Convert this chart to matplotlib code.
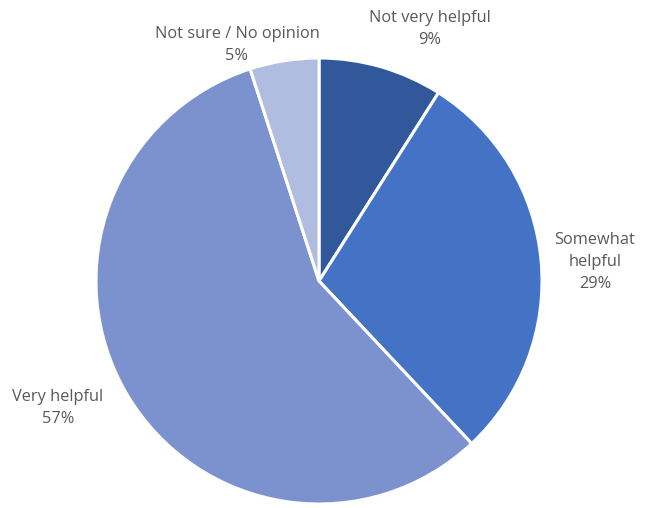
import matplotlib
matplotlib.use("Agg")
import matplotlib.pyplot as plt

labels = ["Not very helpful", "Somewhat\nhelpful", "Very helpful", "Not sure / No opinion"]
shares = [9, 29, 57, 5]
colors = ["#30589A", "#4472C4", "#7B92CF", "#B0BCE0"]

W, H = 653, 508
fig = plt.figure(figsize=(W / 100, H / 100), dpi=100)
ax = fig.add_axes([0, 0, 1, 1])

ax.pie(shares, colors=colors, startangle=90, counterclock=False,
       center=(319, H - 281), radius=223, frame=True,
       wedgeprops=dict(edgecolor="white", linewidth=2.2))
ax.set_xlim(0, W)
ax.set_ylim(0, H)
ax.axis("off")

# label anchor points (pixel coords, from top)
label_pos = [(430, 29), (595, 262), (58, 408), (237, 45)]
for lab, val, (x, y) in zip(labels, shares, label_pos):
    ax.text(x, H - y, "%s\n%d%%" % (lab, val), ha="center", va="center",
            fontsize=11.8, family="Open Sans", color="#595959", linespacing=1.5)

fig.savefig("out.png", dpi=100, facecolor="white")
